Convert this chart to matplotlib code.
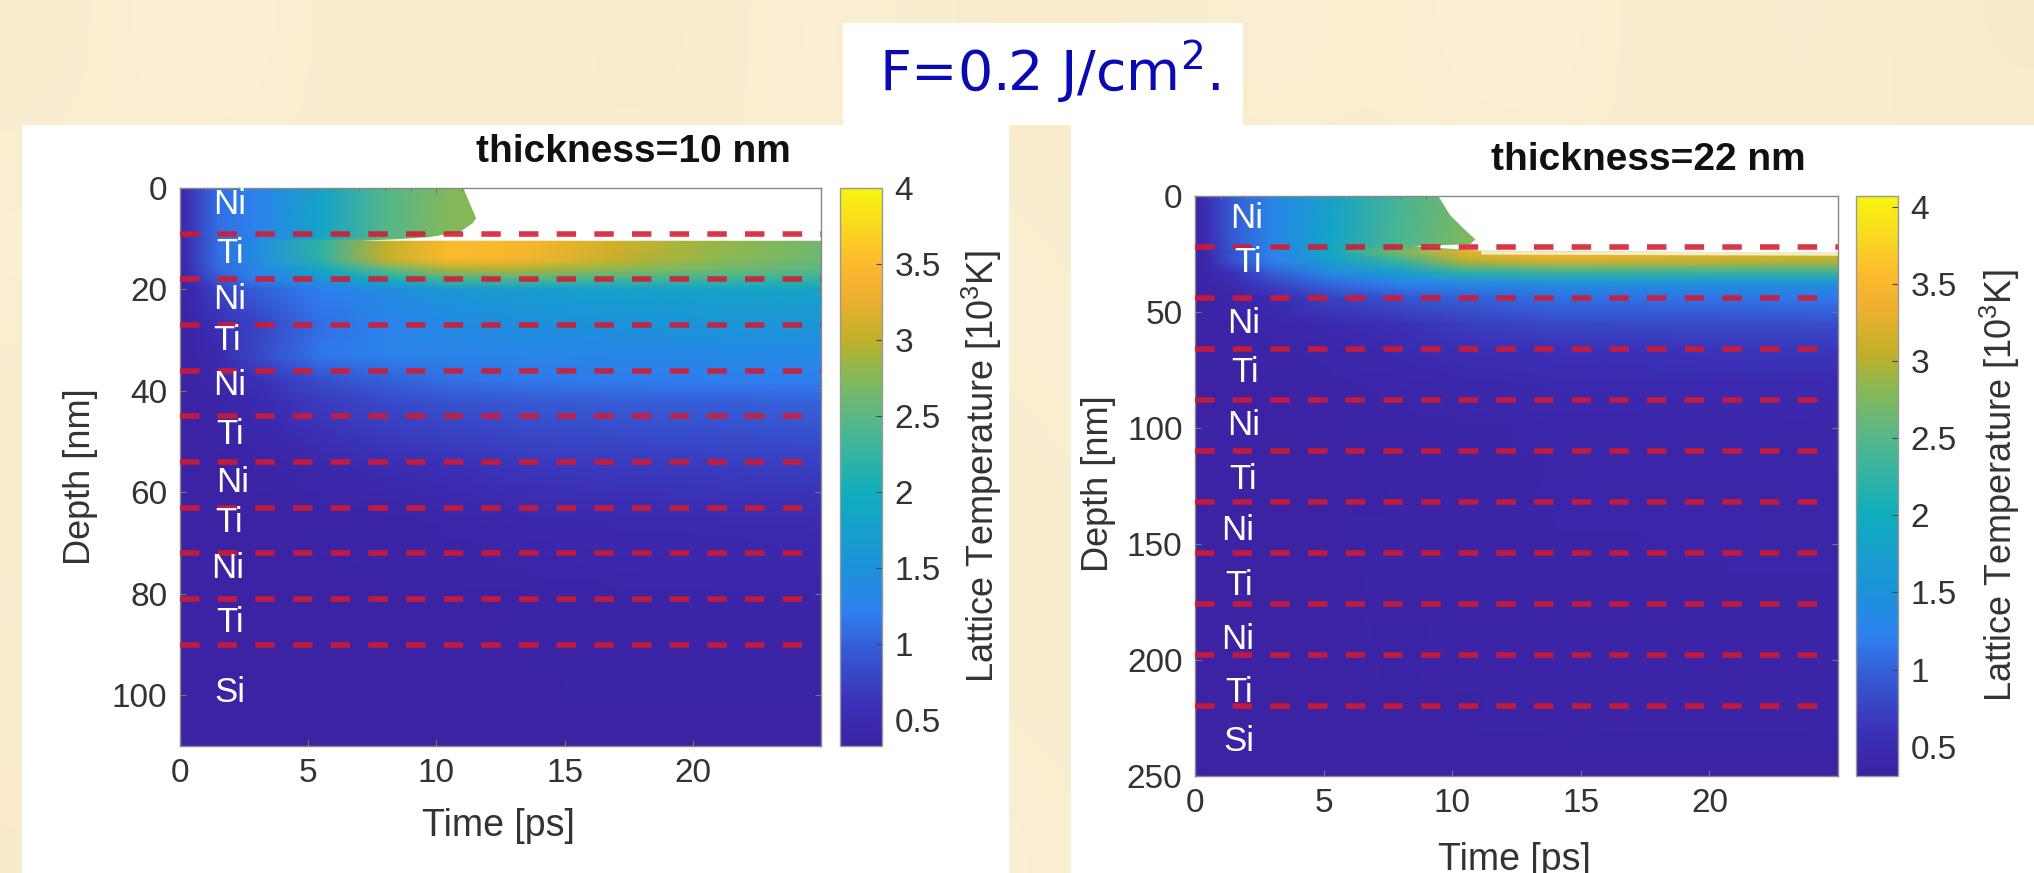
import numpy as np
import matplotlib
matplotlib.use('Agg')
import matplotlib.pyplot as plt
from matplotlib.colors import LinearSegmentedColormap
from matplotlib.patches import Rectangle

W, H = 2034, 873

plt.rcParams['font.family'] = ['Liberation Sans', 'DejaVu Sans']
plt.rcParams['mathtext.default'] = 'regular'

# colour bar, temperature -> colour
cmap_temp = [0.33, 0.6, 1.0, 1.2, 1.5, 2.0, 2.5, 2.8, 3.0, 3.3, 3.5, 3.75, 4.0]
cmap_cols = ['#3b22a2', '#3b30b8', '#3560d8', '#2f80f0', '#1c92da', '#10aebc', '#5ab886', '#8cb850',
             '#bfb02a', '#f0b030', '#fcb92e', '#fad820', '#f8f510']

# cream slide background, tint per coarse cell
bg_tint = [
    [0.6, 0.2, 0.7, 0.4, 0.8, 0.3, 0.6, 0.9, 0.3, 0.6, 0.2, 0.7, 0.4, 0.8],
    [0.3, 0.8, 0.4, 0.9, 0.3, 0.6, 0.2, 0.5, 0.8, 0.4, 0.9, 0.3, 0.7, 0.5],
    [0.7, 0.4, 0.6, 0.2, 0.7, 0.5, 0.8, 0.3, 0.6, 0.2, 0.5, 0.8, 0.3, 0.6],
    [0.4, 0.7, 0.3, 0.6, 0.5, 0.2, 0.6, 0.7, 0.4, 0.8, 0.3, 0.6, 0.7, 0.2],
    [0.8, 0.3, 0.6, 0.4, 0.7, 0.8, 0.3, 0.5, 0.7, 0.3, 0.6, 0.4, 0.5, 0.7],
]

# left panel, thickness 10 nm
time_left = [0, 0.5, 1.5, 3, 5.5, 8, 10.5, 13.5, 17, 21, 25]
depth_left = [0, 9.9, 10.4, 14, 16, 18, 20, 27, 33, 38, 42, 55, 65, 80, 110]
temp_left = [
    [0.40, 0.70, 1.10, 1.25, 1.80, 2.45, 2.75, 2.75, 2.75, 2.75, 2.75],
    [0.40, 0.70, 1.10, 1.25, 1.80, 2.45, 2.75, 2.75, 2.75, 2.75, 2.75],
    [0.40, 0.70, 1.10, 1.40, 2.20, 3.00, 3.50, 3.45, 3.10, 2.85, 2.65],
    [0.40, 0.70, 1.10, 1.40, 2.20, 3.05, 3.50, 3.40, 3.05, 2.80, 2.60],
    [0.40, 0.65, 1.05, 1.30, 1.90, 2.55, 2.95, 2.95, 2.80, 2.65, 2.50],
    [0.40, 0.60, 0.95, 1.20, 1.60, 2.00, 2.35, 2.40, 2.35, 2.30, 2.25],
    [0.38, 0.50, 0.75, 1.00, 1.20, 1.40, 1.60, 1.70, 1.75, 1.80, 1.80],
    [0.36, 0.42, 0.60, 0.75, 1.10, 1.25, 1.35, 1.45, 1.50, 1.55, 1.55],
    [0.36, 0.40, 0.50, 0.80, 1.15, 1.25, 1.28, 1.30, 1.33, 1.35, 1.35],
    [0.36, 0.38, 0.45, 0.60, 0.85, 1.00, 1.10, 1.15, 1.18, 1.20, 1.20],
    [0.35, 0.36, 0.40, 0.50, 0.70, 0.82, 0.90, 0.95, 0.98, 1.00, 1.02],
    [0.35, 0.35, 0.36, 0.38, 0.45, 0.52, 0.60, 0.65, 0.68, 0.70, 0.72],
    [0.35, 0.35, 0.35, 0.36, 0.38, 0.40, 0.42, 0.46, 0.49, 0.51, 0.53],
    [0.35, 0.35, 0.35, 0.35, 0.35, 0.36, 0.37, 0.38, 0.39, 0.40, 0.40],
    [0.35, 0.35, 0.35, 0.35, 0.35, 0.35, 0.35, 0.35, 0.35, 0.35, 0.35],
]
gap_t_left = [11.05, 11.3, 11.55, 11.4, 10.9, 9.7, 8.3, 7.0, 25, 25]
gap_d_left = [0, 3, 6, 7, 8.7, 9.7, 10.15, 10.4, 10.4, 0]
dash_left = [9, 18, 27, 36, 45, 54, 63, 72, 81, 90]
layer_left = ['Ni', 'Ti', 'Ni', 'Ti', 'Ni', 'Ti', 'Ni', 'Ti', 'Ni', 'Ti', 'Si']
layer_x_left = [1.95, 1.95, 1.95, 1.85, 1.95, 1.95, 2.05, 1.9, 1.85, 1.95, 1.95]
layer_y_left = [3.3, 13, 22, 30, 39, 48.6, 58, 66, 75, 85.7, 99.5]

# right panel, thickness 22 nm
time_right = [0, 0.5, 1.5, 3, 5.3, 8, 10.5, 14, 25]
depth_right = [0, 21, 24, 28, 33, 38, 44, 55, 66, 80, 100, 250]
temp_right = [
    [0.38, 0.60, 1.00, 1.30, 1.80, 2.40, 2.70, 2.70, 2.70],
    [0.38, 0.55, 0.95, 1.30, 1.85, 2.45, 2.75, 2.75, 2.75],
    [0.38, 0.50, 0.90, 1.25, 1.95, 2.75, 3.30, 3.50, 3.20],
    [0.36, 0.45, 0.90, 1.25, 1.75, 2.30, 3.00, 3.20, 3.00],
    [0.35, 0.40, 0.60, 1.00, 1.40, 1.75, 2.20, 2.30, 2.30],
    [0.35, 0.37, 0.50, 0.75, 1.05, 1.25, 1.35, 1.45, 1.50],
    [0.35, 0.36, 0.40, 0.50, 0.75, 0.90, 1.00, 1.10, 1.15],
    [0.34, 0.35, 0.36, 0.42, 0.50, 0.60, 0.72, 0.80, 0.85],
    [0.34, 0.34, 0.35, 0.37, 0.42, 0.50, 0.56, 0.60, 0.65],
    [0.34, 0.34, 0.34, 0.35, 0.38, 0.42, 0.45, 0.48, 0.52],
    [0.34, 0.34, 0.34, 0.34, 0.35, 0.36, 0.38, 0.40, 0.42],
    [0.34, 0.34, 0.34, 0.34, 0.34, 0.34, 0.34, 0.34, 0.34],
]
gap_t_right = [9.46, 9.9, 10.4, 10.9, 10.7, 8.5, 10.0, 11.2, 25, 25]
gap_d_right = [0, 8, 13.6, 18.7, 20.8, 21.6, 22.8, 23.6, 24.5, 0]
film_t_right = [11.2, 25]
film_d_right = [24.5, 25]
dash_right = [22, 44, 66, 88, 110, 132, 154, 176, 198, 220]
layer_right = ['Ni', 'Ti', 'Ni', 'Ti', 'Ni', 'Ti', 'Ni', 'Ti', 'Ni', 'Ti', 'Si']
layer_x_right = [2.0, 2.05, 1.9, 1.95, 1.9, 1.85, 1.65, 1.7, 1.65, 1.7, 1.7]
layer_y_right = [9.5, 28.5, 55, 76, 99, 122, 144, 168, 191, 214, 235]

x_ticks = [0, 5, 10, 15, 20]
bar_ticks = [0.5, 1, 1.5, 2, 2.5, 3, 3.5, 4]
bar_labels = ['0.5', '1', '1.5', '2', '2.5', '3', '3.5', '4']


def px_box(x0, y0, x1, y1):
    """Pixel box, y from the top, to figure fractions."""
    return [x0 / W, 1 - y1 / H, (x1 - x0) / W, (y1 - y0) / H]


def draw_panel(fig, box, cbox, t, d, temp, gap_t, gap_d, dashes, names, nx, ny,
               y_ticks, y_max, vmin, vmax, title, title_xy, xlabel_xy, ylabel_xy, cbar_label_x, long_dashes):
    ax = fig.add_axes(px_box(*box))
    mesh = ax.pcolormesh(t, d, np.array(temp), shading='gouraud', cmap=cmap, vmin=vmin, vmax=vmax)
    ax.fill(gap_t, gap_d, color='white', lw=0, zorder=2)
    ax.set_xlim(0, 25)
    ax.set_ylim(y_max, 0)
    ax.set_xticks(x_ticks)
    ax.set_xticks(np.arange(0, 26, 1), minor=True)
    ax.set_yticks(y_ticks)
    ax.tick_params(which='both', direction='in', top=True, right=True, color='#777777', width=0.8,
                   labelsize=24, labelcolor='#333333', length=4, pad=9)
    ax.tick_params(which='minor', length=2, bottom=False)
    for s in ax.spines.values():
        s.set_color('#888888')
        s.set_linewidth(1.0)
    for i, y in enumerate(dashes):
        x_end = 25 if i < long_dashes else 24.3
        ax.plot([0, x_end], [y, y], color='#d41a30', alpha=0.88, lw=4, ls=(0, (3.5, 3.28)),
                dash_capstyle='butt', zorder=3)
    for name, x, y in zip(names, nx, ny):
        ax.text(x, y, name, color='white', fontsize=25, ha='center', va='center', zorder=4)
    fig.text(title_xy[0] / W, 1 - title_xy[1] / H, title, fontsize=28, fontweight='bold',
             color='#111111', ha='center', va='center')
    fig.text(xlabel_xy[0] / W, 1 - xlabel_xy[1] / H, 'Time [ps]', fontsize=27, color='#333333',
             ha='center', va='center')
    fig.text(ylabel_xy[0] / W, 1 - ylabel_xy[1] / H, 'Depth [nm]', fontsize=26, color='#333333',
             rotation=90, ha='center', va='center')

    cax = fig.add_axes(px_box(*cbox))
    cb = fig.colorbar(mesh, cax=cax)
    cb.set_ticks(bar_ticks)
    cb.set_ticklabels(bar_labels)
    cb.ax.tick_params(labelsize=24, labelcolor='#333333', direction='in', length=4, width=0.8,
                      color='#444444', pad=9)
    cb.outline.set_edgecolor('#999999')
    cb.outline.set_linewidth(1.0)
    fig.text(cbar_label_x / W, 1 - (cbox[1] + cbox[3]) / 2 / H, 'Lattice Temperature [$10^3$K]', fontsize=26,
             color='#333333', rotation=90, ha='center', va='center')
    return ax


cmap_pos = [(v - cmap_temp[0]) / (cmap_temp[-1] - cmap_temp[0]) for v in cmap_temp]
cmap = LinearSegmentedColormap.from_list('slide_parula', list(zip(cmap_pos, cmap_cols)))
paper = LinearSegmentedColormap.from_list('paper', ['#fcf3dd', '#f8e9c6'])

fig = plt.figure(figsize=(W / 100, H / 100), dpi=100, facecolor='#faeed3')

bg = fig.add_axes([0, 0, 1, 1], zorder=-2)
bg.imshow(bg_tint, cmap=paper, vmin=0, vmax=1, aspect='auto', interpolation='bicubic')
bg.axis('off')

# white cut-outs of the slide
for x0, y0, x1, y1 in [(22, 125, 1009, H), (1071, 125, W, H), (843, 23, 1243, 125)]:
    x, y, w, h = px_box(x0, y0, x1, y1)
    fig.add_artist(Rectangle((x, y), w, h, transform=fig.transFigure, color='white', lw=0, zorder=-1))

fig.text(1050 / W, 1 - 72 / H, 'F=0.2 J/cm$^{2}$.', fontsize=40, color='#0a0ab4', family='DejaVu Sans',
         ha='center', va='center')

draw_panel(fig, (180, 188, 821, 746), (840, 188, 882, 746), time_left, depth_left, temp_left,
           gap_t_left, gap_d_left, dash_left, layer_left, layer_x_left, layer_y_left,
           [0, 20, 40, 60, 80, 100], 110, 0.33, 4.0, 'thickness=10 nm', (633, 152), (498, 826), (81, 477), 982, 4)

ax_r = draw_panel(fig, (1195, 196, 1838, 776), (1856, 196, 1898, 776), time_right, depth_right, temp_right,
                  gap_t_right, gap_d_right, dash_right, layer_right, layer_x_right, layer_y_right,
                  [0, 50, 100, 150, 200, 250], 250, 0.31, 4.07, 'thickness=22 nm', (1648, 160), (1514, 860), (1098, 484), 2000, 1)
ax_r.plot(film_t_right, film_d_right, color='#f4ecc4', lw=2.5, zorder=2.5)

fig.savefig('out.png', dpi=100, facecolor=fig.get_facecolor())
